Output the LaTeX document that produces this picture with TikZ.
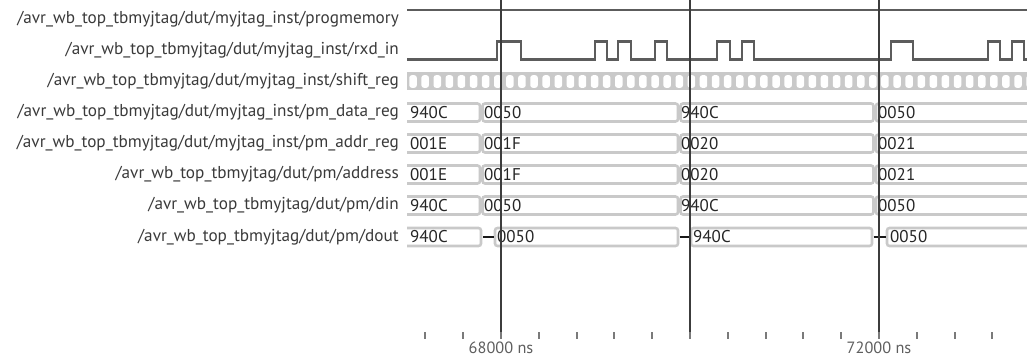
\documentclass[tikz,border=0pt]{standalone}
\usepackage{fontspec}
\setmainfont{PT Sans}
\definecolor{wavec}{HTML}{5C5C5C}
\definecolor{busc}{HTML}{C9C9C9}
\definecolor{lblc}{HTML}{3A3A3A}
\definecolor{valc}{HTML}{262626}
\definecolor{cursc}{HTML}{3C3C3C}
\definecolor{tickc}{HTML}{7A7A7A}
\definecolor{timec}{HTML}{5E5E5E}
\begin{document}
\begin{tikzpicture}[x=1pt,y=-1pt,
  wave/.style={draw=wavec, line width=2.4pt, line join=miter},
  busbox/.style={draw=busc, line width=2.6pt, rounded corners=2.5pt, fill=white},
  lbl/.style={anchor=east, text=lblc, font=\fontsize{17.2}{19}\selectfont, inner sep=0pt},
  val/.style={anchor=west, text=valc, font=\fontsize{17}{19}\selectfont, inner sep=0pt},
  hiz/.style={draw=black!90, line width=2.4pt},
  cursor/.style={draw=cursc, line width=2pt},
  tickmark/.style={draw=tickc, line width=2pt},
  timelbl/.style={text=timec, font=\fontsize{16.3}{18}\selectfont, inner sep=0pt}]
\useasboundingbox (0,0) rectangle (1027,358);
% labels
\node[lbl] (l0) at (399,19) {/avr\_wb\_top\_tbmyjtag/dut/myjtag\_inst/progmemory};
\node[lbl] (l1) at (399,50.5) {/avr\_wb\_top\_tbmyjtag/dut/myjtag\_inst/rxd\_in};
\node[lbl] (l2) at (399,81.5) {/avr\_wb\_top\_tbmyjtag/dut/myjtag\_inst/shift\_reg};
\node[lbl] (l3) at (399,112.5) {/avr\_wb\_top\_tbmyjtag/dut/myjtag\_inst/pm\_data\_reg};
\node[lbl] (l4) at (399,143.5) {/avr\_wb\_top\_tbmyjtag/dut/myjtag\_inst/pm\_addr\_reg};
\node[lbl] (l5) at (399,174.5) {/avr\_wb\_top\_tbmyjtag/dut/pm/address};
\node[lbl] (l6) at (399,205.5) {/avr\_wb\_top\_tbmyjtag/dut/pm/din};
\node[lbl] (l7) at (399,237) {/avr\_wb\_top\_tbmyjtag/dut/pm/dout};
\begin{scope}
\clip (407,0) rectangle (1027,358);
% progmemory
\draw[wave] (407,10) -- (1027,10);
% rxd_in
\draw[wave] (407,59.5) -- (497,59.5) -- (497,41.5) -- (521,41.5) -- (521,59.5)
  -- (595,59.5) -- (595,41.5) -- (607,41.5) -- (607,59.5)
  -- (618,59.5) -- (618,41.5) -- (631,41.5) -- (631,59.5)
  -- (655,59.5) -- (655,41.5) -- (667,41.5) -- (667,59.5)
  -- (717,59.5) -- (717,41.5) -- (730,41.5) -- (730,59.5)
  -- (742,59.5) -- (742,41.5) -- (754,41.5) -- (754,59.5)
  -- (891,59.5) -- (891,41.5) -- (913,41.5) -- (913,59.5)
  -- (988,59.5) -- (988,41.5) -- (1000,41.5) -- (1000,59.5)
  -- (1012,59.5) -- (1012,41.5) -- (1024,41.5) -- (1024,59.5) -- (1030,59.5);
% shift_reg
\fill[busc] (407,72.5) rectangle (1027,90.5);
\foreach \i in {0,...,51} {
  \fill[white, rounded corners=2.5pt] ({407+12.1*\i+2.3},75.2) rectangle ({407+12.1*\i+12.1-2.3},87.8);
}
% bus rows
\foreach \y/\a/\b/\c/\d in {112.5/940C/0050/940C/0050, 143.5/001E/001F/0020/0021, 174.5/001E/001F/0020/0021, 205.5/940C/0050/940C/0050} {
  \draw[busbox] (400,\y-9) rectangle (480,\y+9);
  \draw[busbox] (482.5,\y-9) rectangle (678,\y+9);
  \draw[busbox] (680.5,\y-9) rectangle (873.5,\y+9);
  \draw[busbox] (876,\y-9) rectangle (1035,\y+9);
  \node[val] at (410,\y) {\a};
  \node[val] at (484,\y) {\b};
  \node[val] at (681,\y) {\c};
  \node[val] at (878,\y) {\d};
}
% dout
\draw[busbox] (400,228) rectangle (481,246);
\draw[busbox] (495,228) rectangle (678,246);
\draw[busbox] (691,228) rectangle (872,246);
\draw[busbox] (887,228) rectangle (1035,246);
\node[val] (o1) at (410,237) {940C};
\node[val] (o2) at (497,237) {0050};
\node[val] (o3) at (693,237) {940C};
\node[val] (o4) at (890,237) {0050};
\draw[hiz] (483,237) -- (493.5,237);
\draw[hiz] (679.5,237) -- (689.5,237);
\draw[hiz] (873.5,237) -- (885.5,237);
\end{scope}
% cursors
\coordinate (c1t) at (501,0); \coordinate (c1b) at (501,338);
\coordinate (c2t) at (690,0); \coordinate (c2b) at (690,338);
\coordinate (c3t) at (879,0); \coordinate (c3b) at (879,338);
\draw[cursor] (c1t) -- (c1b);
\draw[cursor] (c2t) -- (c2b);
\draw[cursor] (c3t) -- (c3b);
% ticks
\foreach \x in {425.4,463.2,501,538.8,576.6,614.4,652.2,690,727.8,765.6,803.4,841.2,879,916.8,954.6,992.4} {
  \draw[tickmark] (\x,332) -- (\x,339);
}
\node[timelbl] (t1) at (501,347.5) {68000 ns};
\node[timelbl] (t2) at (879,347.5) {72000 ns};
\end{tikzpicture}
\end{document}
